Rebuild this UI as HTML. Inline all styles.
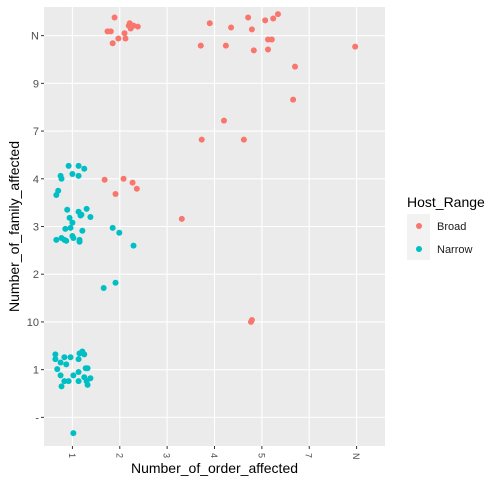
<!DOCTYPE html>
<html><head><meta charset="utf-8"><style>
body{margin:0;background:#fff;font-family:"Liberation Sans",Arial,sans-serif}
</style></head><body>
<svg id="chart" width="503" height="485" xmlns="http://www.w3.org/2000/svg" font-family="Liberation Sans, Arial, sans-serif">
<rect x="44" y="7" width="341" height="439" fill="#EBEBEB"/>
<g id="grid"></g>
<g id="pts"></g>
<g id="axes"></g>
<text x="214.5" y="473" font-size="14" text-anchor="middle" fill="#000">Number_of_order_affected</text>
<text transform="translate(19,226.5) rotate(-90)" font-size="14" text-anchor="middle" fill="#000">Number_of_family_affected</text>
<g>
<text x="407" y="207" font-size="14" fill="#000">Host_Range</text>
<rect x="407" y="214" width="23" height="46" fill="#F2F2F2"/>
<circle cx="419" cy="226" r="3" fill="#F8766D"/>
<circle cx="419" cy="249" r="3" fill="#00BFC4"/>
<text x="437" y="230" font-size="11" fill="#1a1a1a">Broad</text>
<text x="437" y="253" font-size="11" fill="#1a1a1a">Narrow</text>
</g>
</svg>
<script>
const xCategories = ["1","2","3","4","5","7","N"];
const yCategories = ["-","1","10","2","3","4","7","9","N"];
const broadX = [1.74,1.81,1.89,1.85,1.97,2.12,2.10,2.19,2.23,2.29,2.38,2.21,3.71,3.90,4.24,4.35,4.71,4.79,4.83,5.07,5.13,5.13,5.21,5.24,5.34,6.97,5.70,5.66,4.20,3.73,4.62,1.68,2.08,2.27,2.36,1.91,3.31,4.77,4.79];
const broadY = [9.09,9.09,9.38,8.84,8.94,8.94,9.05,9.21,9.15,9.21,9.19,9.26,8.79,9.26,8.79,9.17,9.38,9.13,8.69,9.32,8.71,8.92,8.92,9.36,9.45,8.77,8.35,7.66,7.22,6.82,6.82,5.98,6.00,5.92,5.79,5.68,5.16,3.00,3.04];
const narrowX = [0.92,1.13,1.25,1.00,1.13,0.75,0.77,0.70,0.66,0.89,0.94,1.13,1.30,1.38,1.17,1.19,0.85,1.00,0.96,0.66,0.77,0.83,0.87,1.00,1.02,1.21,1.15,1.15,
0.64,0.64,0.83,0.96,1.15,1.21,1.25,1.13,0.75,0.87,0.68,0.75,0.83,0.92,0.77,1.02,1.13,1.28,1.32,1.25,1.38,1.30,1.32,1.13,1.02,
1.85,1.99,2.29,1.91,1.66];
const narrowY = [6.27,6.27,6.21,6.10,6.06,6.06,6.00,5.75,5.66,5.35,5.18,5.31,5.37,5.20,5.23,5.25,4.95,5.08,4.97,4.72,4.76,4.72,4.70,4.80,4.76,4.91,4.72,4.68,
2.32,2.22,2.26,2.26,2.34,2.38,2.32,2.22,2.15,2.11,2.01,1.88,1.76,1.76,1.65,1.88,1.95,2.03,2.03,1.84,1.82,1.76,1.68,1.76,0.67,
4.97,4.87,4.60,3.82,3.71];
const ns="http://www.w3.org/2000/svg";
const X0=44,X1=385,Y0=7,Y1=446;
function xs(v){return X0+(v-0.4)/(xCategories.length+0.2)*(X1-X0);}
function ys(v){return Y1-(v-0.4)/(yCategories.length+0.2)*(Y1-Y0);}
function mk(tag,attrs,parent){const e=document.createElementNS(ns,tag);for(const k in attrs)e.setAttribute(k,attrs[k]);parent.appendChild(e);return e;}
const grid=document.getElementById('grid'),axes=document.getElementById('axes'),pts=document.getElementById('pts');
xCategories.forEach((c,i)=>{const x=xs(i+1);
 const l=mk('line',{x1:x,x2:x,y1:Y0,y2:Y1,stroke:'#fff','stroke-width':1.1},grid);
 
 
 const t=mk('line',{x1:x,x2:x,y1:Y1,y2:Y1+3,stroke:'#333'},axes);
 
 
 const tx=mk('text',{transform:`translate(${x-3.5},${Y1+7}) rotate(90)`,'font-size':9,fill:'#4d4d4d'},axes);
 tx.textContent=c;
 
 
});
yCategories.forEach((c,i)=>{const y=ys(i+1);
 const l=mk('line',{x1:X0,x2:X1,y1:y,y2:y,stroke:'#fff','stroke-width':1.1},grid);
 
 
 const t=mk('line',{x1:X0-3,x2:X0,y1:y,y2:y,stroke:'#333'},axes);
 
 
 const tx=mk('text',{x:X0-5,y:y+4,'font-size':11,'text-anchor':'end',fill:'#4d4d4d'},axes);
 tx.textContent=c;
 
 
});
function draw(xa,ya,col,name){xa.forEach((v,i)=>{const c=mk('circle',{cx:xs(v),cy:ys(ya[i]),r:3,fill:col},pts);
 
 });}
draw(broadX,broadY,'#F8766D','point-broad');
draw(narrowX,narrowY,'#00BFC4','point-narrow');
</script>
</body></html>
